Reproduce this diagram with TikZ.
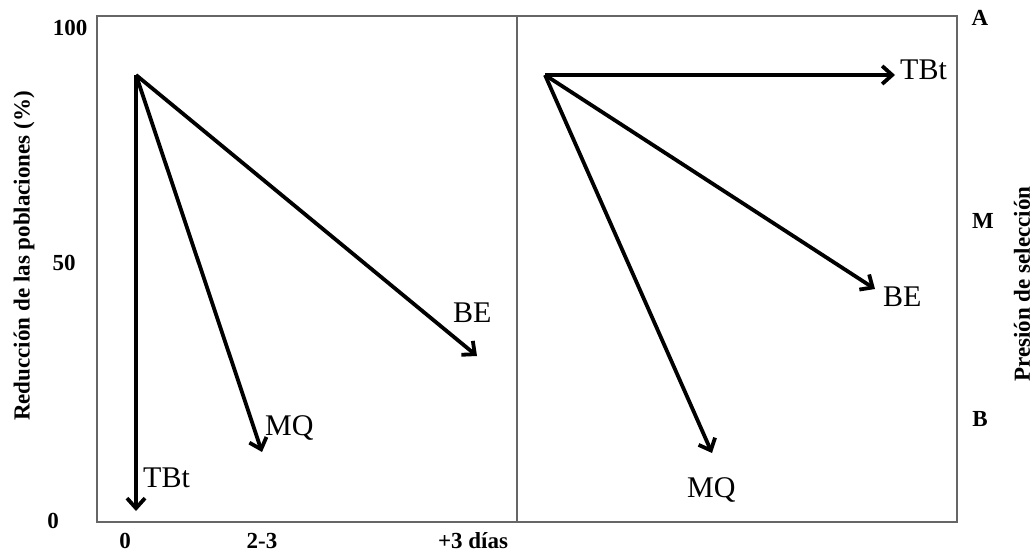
\documentclass[tikz,border=0pt]{standalone}
\usepackage{fontspec}
\setmainfont{Liberation Serif}
\usetikzlibrary{arrows.meta,positioning}

\begin{document}
\begin{tikzpicture}[x=1pt,y=-1pt,
        flecha/.style={line width=3.8pt,
                       -{Straight Barb[length=10pt,width=18pt]}},
        trat/.style={font=\fontsize{30}{30}\selectfont, anchor=base west, inner sep=0pt},
        eje/.style={font=\fontsize{23}{23}\selectfont\bfseries, inner sep=0pt}]
  \useasboundingbox (0,0) rectangle (1033,553);

  % marco de los dos paneles
  \draw[black!60, line width=1.3pt] (97,16) rectangle (957,522);
  \draw[black!60, line width=1.3pt] (517,16) -- (517,522);

  % ejes
  \node[eje] (y100) at (70,28) {100};
  \node[eje] (y50)  at (64,263) {50};
  \node[eje] (y0)   at (53,521) {0};
  \node[eje] (x0)   at (125,541) {0};
  \node[eje] (x23)  at (262,541) {2-3};
  \node[eje] (x3)   at (473,541) {+3 días};
  \node[eje, rotate=90] (ytit) at (24,256) {Reducción de las poblaciones (\%)};
  \node[eje] (pA) at (980,18) {A};
  \node[eje] (pM) at (983,221) {M};
  \node[eje] (pB) at (980,419) {B};
  \node[eje, rotate=90] (ptit) at (1022,284) {Presión de selección};

  % panel izquierdo
  \coordinate (oIzq) at (136,75);
  \coordinate (tbtIzq) at (136,511);
  \coordinate (mqIzq) at (262,452);
  \coordinate (beIzq) at (477,356);
  \draw[flecha] (oIzq) -- (tbtIzq);
  \draw[flecha] (oIzq) -- (mqIzq);
  \draw[flecha] (oIzq) -- (beIzq);
  \node[trat] (lTBtIzq) at (143,487) {TBt};
  \node[trat] (lMQIzq) at (265,435) {MQ};
  \node[trat] (lBEIzq) at (453,322) {BE};

  % panel derecho
  \coordinate (oDer) at (545,75);
  \coordinate (tbtDer) at (895,75);
  \coordinate (beDer) at (875,289);
  \coordinate (mqDer) at (712,453);
  \draw[flecha] (oDer) -- (tbtDer);
  \draw[flecha] (oDer) -- (beDer);
  \draw[flecha] (oDer) -- (mqDer);
  \node[trat] (lTBtDer) at (900,80) {TBt};
  \node[trat] (lBEDer) at (883,306) {BE};
  \node[trat] (lMQDer) at (687,497) {MQ};
\end{tikzpicture}
\end{document}
